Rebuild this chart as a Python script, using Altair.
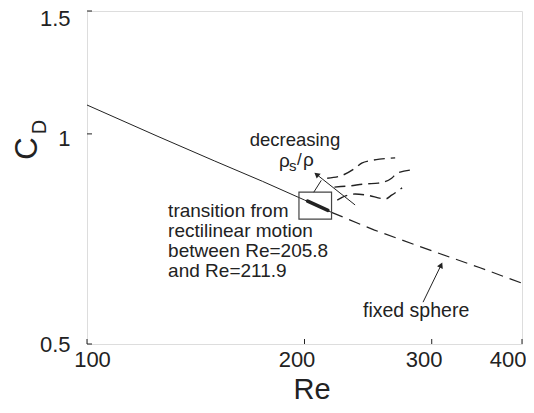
import altair as alt
import pandas as pd

# ---- data ----
re_solid = [100, 125, 150, 175, 200, 218]
cd_solid = [1.10, 0.993, 0.915, 0.855, 0.804, 0.772]

re_dash = [218, 250, 300, 350, 400]
cd_dash = [0.772, 0.728, 0.680, 0.643, 0.611]

re_trans = [202, 215.5]
cd_trans = [0.801, 0.777]

box_re = [196.5, 218]
box_cd = [0.755, 0.825]

top_re = [215, 224, 235, 240, 249, 254, 267]
top_cd = [0.864, 0.870, 0.893, 0.908, 0.917, 0.920, 0.924]
mid_re = [220, 230, 243, 253, 264, 269, 282]
mid_cd = [0.839, 0.842, 0.848, 0.850, 0.864, 0.879, 0.888]
bot_re = [222, 228, 235, 244, 259, 264, 273]
bot_cd = [0.804, 0.815, 0.820, 0.817, 0.807, 0.817, 0.837]

lead_re = [206, 211]
lead_cd = [0.825, 0.858]

arrow1_re = [235, 208.3]
arrow1_cd = [0.791, 0.8733]
arrow2_re = [291.8, 308.7]
arrow2_cd = [0.574, 0.647]

x_ticks = [100, 200, 300, 400]
y_ticks = [0.5, 1, 1.5]

note_lines = ["transition from", "rectilinear motion", "between Re=205.8", "and Re=211.9"]
note_re = 129.5
note_cd = [0.761, 0.711, 0.666, 0.623]

FONT = "Liberation Sans"
INK = "#222222"

xscale = alt.Scale(type="log", domain=[100, 400], nice=False, zero=False)
yscale = alt.Scale(type="log", domain=[0.5, 1.5], nice=False, zero=False)

x_label_offset = {"condition": [{"test": "datum.value <= 100", "value": 5},
                                {"test": "datum.value >= 400", "value": 4}],
                  "value": -8}
x_label_align = {"condition": {"test": "datum.value >= 400", "value": "right"},
                 "value": "center"}
y_label_offset = {"condition": [{"test": "datum.value <= 0.5", "value": 0},
                                {"test": "datum.value >= 1.5", "value": 7}],
                  "value": 5}

X = alt.X("Re:Q", scale=xscale, title=None,
          axis=alt.Axis(values=x_ticks, format="d", domain=False, ticks=False, tickSize=0,
                        grid=False, labelFontSize=22, labelFont=FONT, labelColor=INK,
                        labelPadding=5, labelFlush=False,
                        labelOffset=x_label_offset, labelAlign=x_label_align))
Y = alt.Y("CD:Q", scale=yscale, title=None,
          axis=alt.Axis(values=y_ticks, format="~g", domain=False, ticks=False, tickSize=0,
                        grid=False, labelFontSize=22, labelFont=FONT, labelColor=INK,
                        labelPadding=17, labelFlush=False, labelOffset=y_label_offset))
X2 = alt.X2("Re2:Q")
Y2 = alt.Y2("CD2:Q")

solid = alt.Chart(pd.DataFrame({"Re": re_solid, "CD": cd_solid})).mark_line(
    color=INK, strokeWidth=1).encode(x=X, y=Y)
dashed = alt.Chart(pd.DataFrame({"Re": re_dash, "CD": cd_dash})).mark_line(
    color=INK, strokeWidth=1.2, strokeDash=[12, 7]).encode(x=X, y=Y)
trans = alt.Chart(pd.DataFrame({"Re": re_trans, "CD": cd_trans})).mark_line(
    color=INK, strokeWidth=3.5, strokeCap="round").encode(x=X, y=Y)
box = alt.Chart(pd.DataFrame({"Re": [box_re[0]], "Re2": [box_re[1]],
                              "CD": [box_cd[0]], "CD2": [box_cd[1]]})).mark_rect(
    fillOpacity=0, stroke="#444444", strokeWidth=1.2).encode(x=X, x2=X2, y=Y, y2=Y2)

curves_df = pd.concat([
    pd.DataFrame({"Re": top_re, "CD": top_cd, "s": "top"}),
    pd.DataFrame({"Re": mid_re, "CD": mid_cd, "s": "mid"}),
    pd.DataFrame({"Re": bot_re, "CD": bot_cd, "s": "bot"}),
])
curves = alt.Chart(curves_df).mark_line(
    color=INK, strokeWidth=1.4, strokeDash=[11, 6], interpolate="monotone").encode(
    x=X, y=Y, detail="s:N")

lead = alt.Chart(pd.DataFrame({"Re": [lead_re[0]], "Re2": [lead_re[1]],
                               "CD": [lead_cd[0]], "CD2": [lead_cd[1]]})).mark_rule(
    color=INK, strokeWidth=1).encode(x=X, x2=X2, y=Y, y2=Y2)

arr1 = alt.Chart(pd.DataFrame({"Re": [arrow1_re[0]], "Re2": [arrow1_re[1]],
                               "CD": [arrow1_cd[0]], "CD2": [arrow1_cd[1]]})).mark_rule(
    color=INK, strokeWidth=1).encode(x=X, x2=X2, y=Y, y2=Y2)
head1 = alt.Chart(pd.DataFrame({"Re": [arrow1_re[1]], "CD": [arrow1_cd[1]]})).mark_point(
    shape="triangle", filled=True, size=40, angle=309, color=INK, opacity=1).encode(x=X, y=Y)
arr2 = alt.Chart(pd.DataFrame({"Re": [arrow2_re[0]], "Re2": [arrow2_re[1]],
                               "CD": [arrow2_cd[0]], "CD2": [arrow2_cd[1]]})).mark_rule(
    color=INK, strokeWidth=1).encode(x=X, x2=X2, y=Y, y2=Y2)
head2 = alt.Chart(pd.DataFrame({"Re": [arrow2_re[1]], "CD": [arrow2_cd[1]]})).mark_point(
    shape="triangle", filled=True, size=40, angle=26, color=INK, opacity=1).encode(x=X, y=Y)

xt = alt.Chart(pd.DataFrame({"Re": x_ticks})).mark_rule(color=INK, strokeWidth=1).encode(
    x=X, y=alt.value(333), y2=alt.value(328))
yt = alt.Chart(pd.DataFrame({"CD": y_ticks})).mark_rule(color=INK, strokeWidth=1).encode(
    y=Y, x=alt.value(0), x2=alt.value(5))

notes = alt.Chart(pd.DataFrame({"Re": [note_re] * 4, "CD": note_cd, "t": note_lines})).mark_text(
    align="left", baseline="alphabetic", font=FONT, fontSize=19, color=INK).encode(
    x=X, y=Y, text="t:N")
decr = alt.Chart(pd.DataFrame({"Re": [194], "CD": [0.961], "t": ["decreasing"]})).mark_text(
    align="center", baseline="alphabetic", font=FONT, fontSize=18.5, color=INK).encode(
    x=X, y=Y, text="t:N")
fixed = alt.Chart(pd.DataFrame({"Re": [241], "CD": [0.5466], "t": ["fixed sphere"]})).mark_text(
    align="left", baseline="alphabetic", font=FONT, fontSize=19.5, color=INK).encode(
    x=X, y=Y, text="t:N")

rho_df = pd.DataFrame({"Re": [184.4], "CD": [0.8965]})
rho1 = alt.Chart(rho_df).mark_text(align="left", baseline="alphabetic", font=FONT,
                                   fontSize=19, color=INK, text="ρ").encode(x=X, y=Y)
rho_s = alt.Chart(rho_df).mark_text(align="left", baseline="alphabetic", font=FONT,
                                    fontSize=15, color=INK, text="s", dx=10, dy=4).encode(x=X, y=Y)
rho_sl = alt.Chart(rho_df).mark_text(align="left", baseline="alphabetic", font=FONT,
                                     fontSize=17, color=INK, text="/", dx=18, dy=-2).encode(x=X, y=Y)
rho2 = alt.Chart(rho_df).mark_text(align="left", baseline="alphabetic", font=FONT,
                                   fontSize=19, color=INK, text="ρ", dx=24, dy=-1).encode(x=X, y=Y)

re_title = alt.Chart(pd.DataFrame({"t": ["Re"]})).mark_text(
    align="center", baseline="alphabetic", font=FONT, fontSize=29, color=INK).encode(
    text="t:N", x=alt.value(225), y=alt.value(388))
c_title = alt.Chart(pd.DataFrame({"t": ["C"]})).mark_text(
    align="center", baseline="alphabetic", font=FONT, fontSize=31, color=INK, angle=270).encode(
    text="t:N", x=alt.value(-50), y=alt.value(137.5))
d_title = alt.Chart(pd.DataFrame({"t": ["D"]})).mark_text(
    align="center", baseline="alphabetic", font=FONT, fontSize=20, color=INK, angle=270).encode(
    text="t:N", x=alt.value(-41), y=alt.value(116))

chart = alt.layer(
    solid, dashed, curves, box, trans, lead, arr1, head1, arr2, head2, xt, yt,
    notes, decr, fixed, rho1, rho_s, rho_sl, rho2, re_title, c_title, d_title
).properties(
    width=435, height=333,
    autosize=alt.AutoSizeParams(type="none"),
    padding={"left": 79, "top": 3, "right": 4, "bottom": 60},
).configure_view(
    stroke=INK, strokeWidth=1
).configure(background="white")

chart.save("out.html", embed_options={"renderer": "svg", "actions": False})
